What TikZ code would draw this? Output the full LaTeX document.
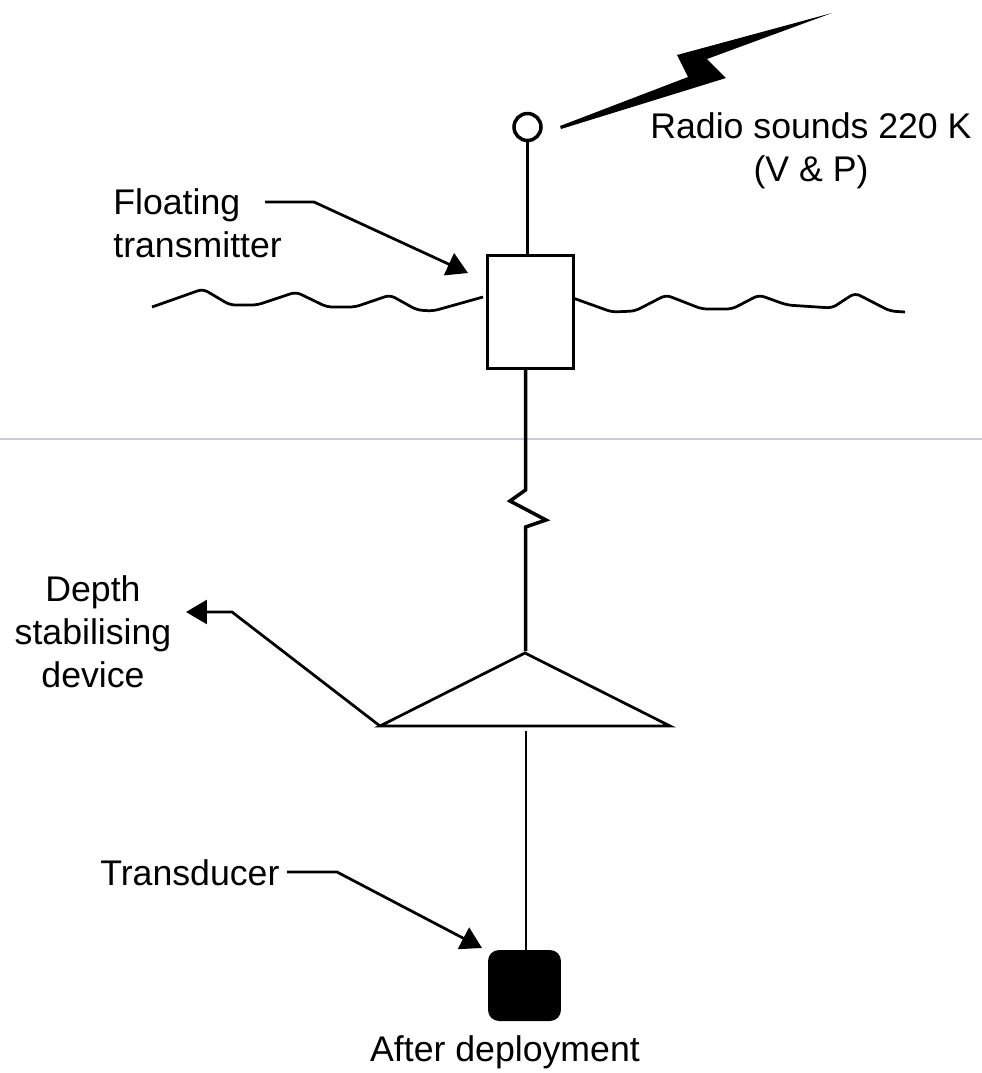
\documentclass[tikz,border=0pt]{standalone}
\usepackage{fontspec}
\setmainfont{Liberation Sans}
\definecolor{scanline}{RGB}{196,206,222}
\usetikzlibrary{arrows.meta,positioning}
\tikzset{
  label text/.style={font=\fontsize{20.3}{24.5}\selectfont,inner sep=0pt},
  wire/.style={draw,line width=0.07cm},
  thin wire/.style={draw,line width=0.055cm},
  pointer/.style={draw,line width=0.055cm,-{Triangle[length=0.42cm,width=0.48cm]}},
}

\begin{document}
\begin{tikzpicture}[x=0.02cm,y=-0.02cm]
  \useasboundingbox (0,0) rectangle (982,1073);
  \coordinate (scanL) at (0,439);
  \coordinate (scanR) at (982,439);
  \draw[scanline,line width=0.025cm] (scanL)--(scanR);

  \node[circle,wire,minimum size=0.54cm,inner sep=0pt] (aerial) at (527.5,127) {};
  \node[rectangle,thin wire,minimum width=1.72cm,minimum height=2.26cm,inner sep=0pt] (float) at (530.5,312) {};
  \node[rectangle,fill=black,rounded corners=0.22cm,minimum width=1.46cm,minimum height=1.42cm,inner sep=0pt] (sensor) at (524.5,985.5) {};

  \coordinate (apex) at (525,653);
  \coordinate (wingL) at (380,726);
  \coordinate (wingR) at (670,726);
  \coordinate (floatB) at (525.5,369);
  \coordinate (kinkT) at (525.5,490);
  \coordinate (kinkA) at (510,501);
  \coordinate (kinkB) at (546,520);
  \coordinate (kinkC) at (525.5,527);
  \coordinate (kinkD) at (525.5,533);
  \coordinate (stemT) at (525.5,651);
  \coordinate (stemB) at (526,731);

  \draw[wire] (aerial)--(aerial|-float.north);
  \draw[wire] (floatB)--(kinkT)--(kinkA)--(kinkB)--(kinkC)--(kinkD)--(stemT);
  \draw[thin wire,line join=miter] (apex)--(wingL)--(wingR)--cycle;
  \draw[thin wire] (stemB)--(stemB|-sensor.north);

  \fill (560,126)--(688,77)--(677,55)--(832,13)--(707,59)--(726,78)--(561,129)--cycle;

  \draw[thin wire,rounded corners=3pt] (152,307)--(203,289)--(230,305)--(257,305)--(296,292)--(327,307)--(355,307)--(390,295)--(417,310)--(433,311)--(483,297);
  \draw[thin wire,rounded corners=3pt] (573,298)--(612,312)--(635,311)--(666,295)--(702,309)--(732,309)--(759,295)--(787,305)--(832,308)--(855,293)--(890,311)--(905,312);

  \node[label text,align=center] (radio) at (811,151) {Radio sounds 220 K\\(V \& P)};
  \node[label text,align=left,anchor=west] (floating) at (113,223) {Floating\\transmitter};
  \node[label text,align=center] (depth) at (93,632) {Depth\\stabilising\\device};
  \node[label text,anchor=west] (transducer) at (100,873) {Transducer};
  \node[label text] (deployed) at (505,1052) {After deployment};

  \coordinate (floatTip) at (468,273);
  \coordinate (sensorTip) at (482,948);
  \coordinate (depthTip) at (186,612);
  \draw[pointer] (265,202)--(314,202)--(floatTip);
  \draw[pointer] (287,872)--(337,872)--(sensorTip);
  \draw[pointer] (wingL)--(232,612)--(depthTip);
\end{tikzpicture}
\end{document}
